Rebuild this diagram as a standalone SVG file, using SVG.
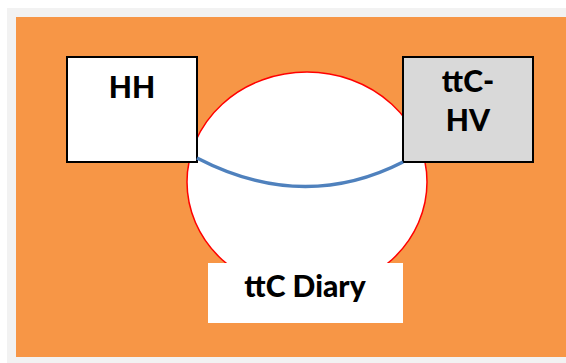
<svg xmlns="http://www.w3.org/2000/svg" width="566" height="363" viewBox="0 0 566 363">
<style>
.box{stroke:#000;stroke-width:2}
.lbl{font-family:Lato,"Open Sans",sans-serif;font-weight:900;font-size:30px;fill:#000;text-anchor:middle}
</style>
<rect width="566" height="363" fill="#fff"/>
<rect x="7" y="8" width="559" height="355" fill="#f2f2f2"/>
<rect x="16" y="17" width="550" height="340" fill="#f79646"/>
<g id="diary">
<ellipse cx="307" cy="182" rx="120" ry="110" fill="#fff" stroke="#ff0000" stroke-width="1.5"/>
<rect x="208" y="263" width="195" height="60" fill="#fff"/>
<text class="lbl" x="305" y="297">ttC Diary</text>
</g>
<g id="hh">
<rect class="box" x="67" y="57" width="130" height="105" fill="#fff"/>
<text class="lbl" x="132" y="98">HH</text>
</g>
<g id="ttchv">
<rect class="box" x="403" y="57" width="130" height="105" fill="#d9d9d9"/>
<text class="lbl" x="468" y="92">ttC-</text>
<text class="lbl" x="468" y="131">HV</text>
</g>
<g id="connectors">
<path d="M197,158 Q303,213 403,162" fill="none" stroke="#4f81bd" stroke-width="3.5"/>
</g>
</svg>
